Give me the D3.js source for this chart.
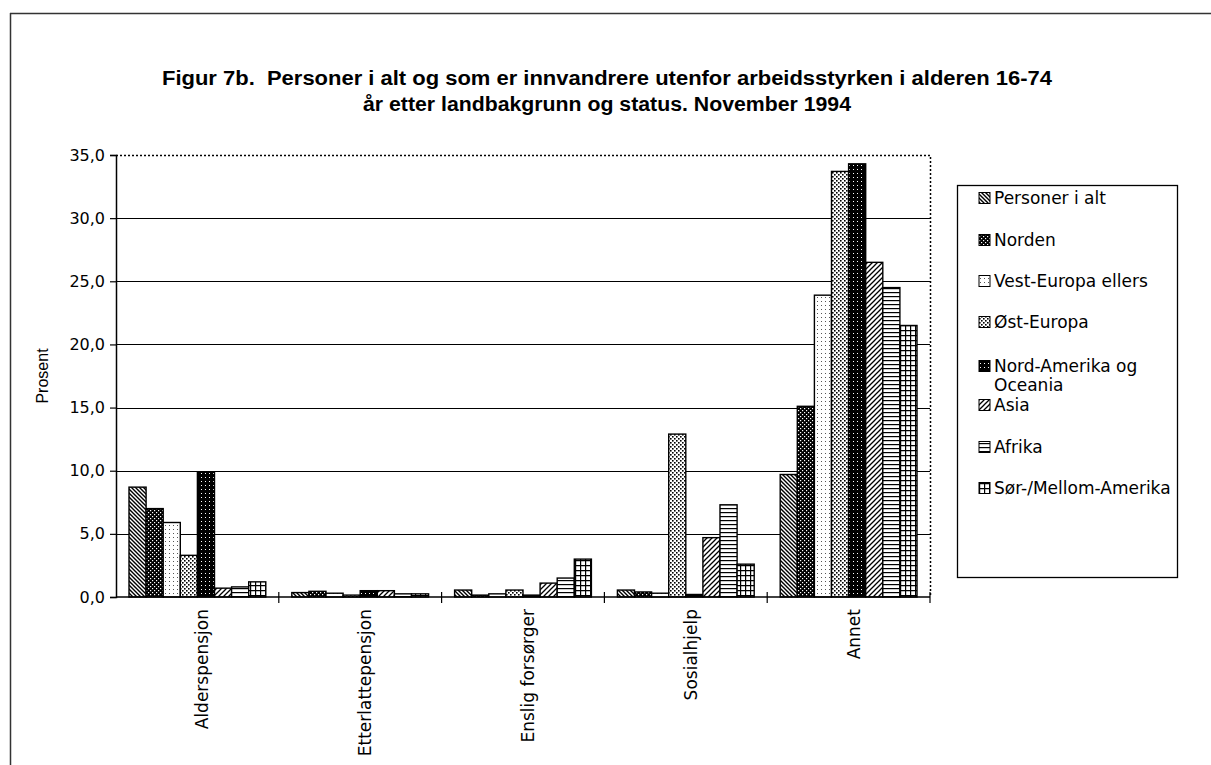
<!DOCTYPE html>
<html><head><meta charset="utf-8">
<script src="https://cdn.jsdelivr.net/npm/d3@7"></script>
<style>body{margin:0;background:#fff}</style>
</head><body><svg id="c" width="1211" height="765"></svg>
<script>
const categories = ["Alderspensjon","Etterlattepensjon","Enslig forsørger","Sosialhjelp","Annet"];
const seriesNames = ["Personer i alt","Norden","Vest-Europa ellers","Øst-Europa","Nord-Amerika og Oceania","Asia","Afrika","Sør-/Mellom-Amerika"];
const personerIAlt = [8.7, 0.35, 0.55, 0.55, 9.7];
const norden       = [7.0, 0.45, 0.15, 0.4, 15.1];
const vestEuropa   = [5.9, 0.3, 0.25, 0.3, 23.9];
const ostEuropa    = [3.3, 0.15, 0.55, 12.9, 33.7];
const nordAmerika  = [9.9, 0.5, 0.15, 0.2, 34.3];
const asia         = [0.7, 0.5, 1.1, 4.7, 26.5];
const afrika       = [0.8, 0.25, 1.5, 7.3, 24.5];
const sorAmerika   = [1.2, 0.25, 3.0, 2.6, 21.5];
const yTicks = [0, 5, 10, 15, 20, 25, 30, 35];
const titleLines = ["Figur 7b.  Personer i alt og som er innvandrere utenfor arbeidsstyrken i alderen 16-74",
                    "år etter landbakgrunn og status. November 1994"];
const yLabel = "Prosent";

const series = [personerIAlt, norden, vestEuropa, ostEuropa, nordAmerika, asia, afrika, sorAmerika];

const svg = d3.select("#c");
svg.append("rect").attr("width",1211).attr("height",765).attr("fill","#fff");

// patterns
const defs = svg.append("defs");
function pat(id, w, h, bg, draw){
  const p = defs.append("pattern").attr("id",id).attr("patternUnits","userSpaceOnUse")
    .attr("width",w).attr("height",h);
  p.append("rect").attr("width",w).attr("height",h).attr("fill",bg);
  draw(p);
}
pat("p0",4,4,"#fff",p=>p.append("path").attr("d","M-1,-1L5,5M-1,3L1,5M3,-1L5,1").attr("stroke","#000").attr("stroke-width",1.4));
pat("p1",4,4,"#000",p=>{p.append("rect").attr("x",0).attr("y",0).attr("width",1.2).attr("height",1.2).attr("fill","#fff");
                        p.append("rect").attr("x",2).attr("y",2).attr("width",1.2).attr("height",1.2).attr("fill","#fff");});
pat("p2",4,4,"#fff",p=>{p.append("rect").attr("x",1).attr("y",1).attr("width",1).attr("height",1).attr("fill","#555");});
pat("p3",4,4,"#fff",p=>{p.append("rect").attr("x",0).attr("y",0).attr("width",1.6).attr("height",1.6).attr("fill","#000");
                        p.append("rect").attr("x",2).attr("y",2).attr("width",1.6).attr("height",1.6).attr("fill","#000");});
pat("p4",4,4,"#000",p=>{p.append("rect").attr("x",1).attr("y",1).attr("width",1).attr("height",1).attr("fill","#fff");});
pat("p5",5,5,"#fff",p=>p.append("path").attr("d","M-1,6L6,-1M-1,1L1,-1M4,6L6,4").attr("stroke","#000").attr("stroke-width",1.3));
pat("p6",4,4,"#fff",p=>p.append("path").attr("d","M0,0.6H4").attr("stroke","#000").attr("stroke-width",1.2));
pat("p7",5,5,"#fff",p=>p.append("path").attr("d","M0,0.6H5M0.6,0V5").attr("stroke","#000").attr("stroke-width",1.2));

// frame
svg.append("line").attr("x1",10).attr("x2",1211).attr("y1",13.5).attr("y2",13.5).attr("stroke","#333").attr("stroke-width",1.5);
svg.append("line").attr("x1",10.5).attr("x2",10.5).attr("y1",13).attr("y2",765).attr("stroke","#333").attr("stroke-width",1.5);

// title
svg.selectAll("text.title").data(titleLines).enter().append("text")
  .attr("x",607).attr("y",(d,i)=>85+i*26).attr("text-anchor","middle")
  .style("white-space","pre")
  .attr("font-family","'Liberation Sans Narrow', 'Liberation Sans', Arial, sans-serif").attr("font-weight","bold").attr("font-size",20)
  .attr("textLength",(d,i)=>i===0?890:488).attr("lengthAdjust","spacingAndGlyphs")
  .text(d=>d);

const L=116, R=930, T=155, B=597;
const y = d3.scaleLinear().domain([0,35]).range([B,T]);
const x0 = d3.scaleBand().domain(categories).range([L,R]);
const x1 = d3.scaleBand().domain(d3.range(series.length)).range([13, x0.bandwidth()-13]);

// gridlines
svg.append("g").selectAll("line").data(yTicks.filter(t=>t>0 && t<35)).enter().append("line")
  .attr("x1",L).attr("x2",R).attr("y1",d=>Math.round(y(d))+0.5).attr("y2",d=>Math.round(y(d))+0.5)
  .attr("stroke","#000").attr("stroke-width",1.2);
// dotted top/right border
svg.append("path").attr("d",`M${L},${T+0.5}H${R+0.5}V${B}`).attr("fill","none")
  .attr("stroke","#000").attr("stroke-width",1.5).attr("stroke-dasharray","2,2");

// bars
const fmt = v=>d3.format(".1f")(v).replace(".",",");
const g = svg.append("g");
categories.forEach((c,ci)=>{
  series.forEach((s,si)=>{
    g.append("rect")
      .attr("x",x0(c)+x1(si)).attr("width",x1.bandwidth())
      .attr("y",y(s[ci])).attr("height",B-y(s[ci]))
      .attr("fill",`url(#p${si})`).attr("stroke","#000").attr("stroke-width",1.4);
  });
});

// y axis
const yAxis = d3.axisLeft(y).tickValues(yTicks).tickSize(6).tickFormat(fmt);
const ya = svg.append("g").attr("transform",`translate(${L},0)`).call(yAxis);
ya.select(".domain").attr("stroke","#000").attr("stroke-width",1.5);
ya.selectAll(".tick line").attr("stroke","#000").attr("stroke-width",1.2);
ya.selectAll(".tick text").attr("font-family","'DejaVu Sans', sans-serif").attr("font-size",16).attr("fill","#000").attr("x",-11);

// x axis
svg.append("line").attr("x1",L).attr("x2",R).attr("y1",B).attr("y2",B).attr("stroke","#000").attr("stroke-width",1.5);
const bounds = categories.map(c=>x0(c)).concat([R]);
svg.append("g").selectAll("line").data(bounds.slice(1)).enter().append("line")
  .attr("x1",d=>d).attr("x2",d=>d).attr("y1",B-5).attr("y2",B+6).attr("stroke","#000").attr("stroke-width",1.2);
svg.append("g").selectAll("text").data(categories).enter().append("text")
  .attr("transform",d=>`translate(${x0(d)+x0.bandwidth()/2+11},${609}) rotate(-90)`)
  .attr("text-anchor","end").attr("font-family","'DejaVu Sans', sans-serif").attr("font-size",17)
  .text(d=>d);

// y label
svg.append("text").attr("transform","translate(48,376) rotate(-90)").attr("text-anchor","middle")
  .attr("font-family","'Liberation Sans', Arial, sans-serif").attr("font-size",16).text(yLabel);

// legend
svg.append("rect").attr("x",957.5).attr("y",185.5).attr("width",220).attr("height",392)
  .attr("fill","#fff").attr("stroke","#000").attr("stroke-width",1.3);
const legY = [198, 240, 281, 322, 366, 405, 447, 488];
const lg = svg.append("g").selectAll("g").data(seriesNames).enter().append("g")
  .attr("transform",(d,i)=>`translate(979,${legY[i]})`);
lg.append("rect").attr("x",0).attr("y",-5.5).attr("width",11).attr("height",11)
  .attr("fill",(d,i)=>`url(#p${i})`).attr("stroke","#000").attr("stroke-width",1);
lg.append("text").attr("x",15).attr("y",6).attr("font-family","'DejaVu Sans', sans-serif").attr("font-size",17)
  .each(function(d){
    const parts = d==="Nord-Amerika og Oceania" ? ["Nord-Amerika og","Oceania"] : [d];
    d3.select(this).selectAll("tspan").data(parts).enter().append("tspan")
      .attr("x",15).attr("dy",(p,j)=>j===0?0:19).text(p=>p);
  });
</script></body></html>
